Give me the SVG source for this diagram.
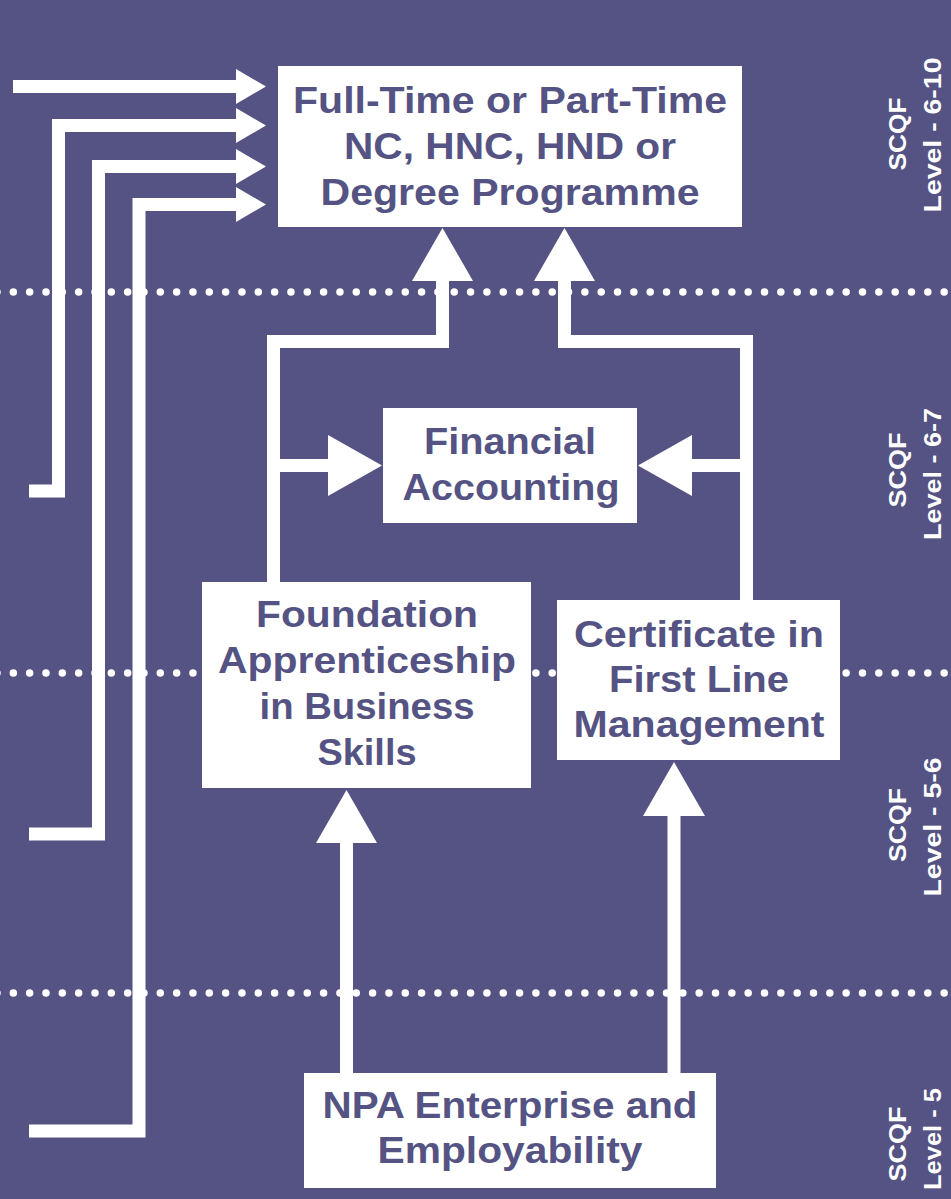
<svg xmlns="http://www.w3.org/2000/svg" width="951" height="1199" viewBox="0 0 951 1199">
  <defs>
    <style>
      .bg { fill: #545383; }
      .box { fill: #ffffff; }
      .lbl { font-family: "Liberation Sans", Arial, sans-serif; font-weight: bold; font-size: 36px; fill: #545383; text-anchor: middle; }
      .lvl { font-family: "Liberation Sans", Arial, sans-serif; font-weight: bold; font-size: 23px; fill: #ffffff; text-anchor: middle; }
      .dots { stroke: #ffffff; stroke-width: 7.5; stroke-linecap: round; stroke-dasharray: 0 16.33; fill: none; }
      .wire { stroke: #ffffff; stroke-width: 13; fill: none; stroke-linejoin: miter; stroke-linecap: butt; }
      .head { fill: #ffffff; }
    </style>
  </defs>

  <rect class="bg" x="0" y="0" width="951" height="1199"/>

  <!-- level separators -->
  <g id="separators">
    <line class="dots" x1="-3" y1="292" x2="960" y2="292"/>
    <line class="dots" x1="-3" y1="673" x2="960" y2="673"/>
    <line class="dots" x1="-3" y1="993" x2="960" y2="993"/>
  </g>

  <!-- connectors -->
  <g id="connectors">
    <!-- entry routes from the left margin -->
    <path class="wire" d="M13 86.5 H237"/>
    <polygon class="head" points="236,69 266,86.5 236,104"/>
    <path class="wire" d="M29 491 H58.5 V125.5 H237"/>
    <polygon class="head" points="236,108 266,125.5 236,143"/>
    <path class="wire" d="M29 834 H98.5 V166.5 H237"/>
    <polygon class="head" points="236,149 266,166.5 236,184"/>
    <path class="wire" d="M29 1131 H139 V204.5 H237"/>
    <polygon class="head" points="236,187 266,204.5 236,222"/>

    <!-- foundation apprenticeship up to programme and across to accounting -->
    <path class="wire" d="M273.5 583 V341.5 H442.5 V280"/>
    <polygon class="head" points="412,281 442.5,228 473,281"/>
    <path class="wire" d="M273.5 465.5 H330"/>
    <polygon class="head" points="328,435 382,465.5 328,496"/>

    <!-- first line management up to programme and across to accounting -->
    <path class="wire" d="M746.5 600 V341.5 H564.5 V280"/>
    <polygon class="head" points="534,281 564.5,228 595,281"/>
    <path class="wire" d="M746.5 465.5 H690"/>
    <polygon class="head" points="692,435 638,465.5 692,496"/>

    <!-- enterprise and employability up to both awards -->
    <path class="wire" d="M346.5 1074 V841"/>
    <polygon class="head" points="316,843 346.5,790 377,843"/>
    <path class="wire" d="M674 1074 V814"/>
    <polygon class="head" points="643,816 674,762 705,816"/>
  </g>

  <g id="programme">
    <rect class="box" x="278" y="66" width="464" height="161"/>
    <text class="lbl" x="510" y="113" textLength="434" lengthAdjust="spacingAndGlyphs">Full-Time or Part-Time</text>
    <text class="lbl" x="510" y="159" textLength="332" lengthAdjust="spacingAndGlyphs">NC, HNC, HND or</text>
    <text class="lbl" x="510" y="205" textLength="379" lengthAdjust="spacingAndGlyphs">Degree Programme</text>
  </g>

  <g id="financial-accounting">
    <rect class="box" x="383" y="408" width="254" height="115"/>
    <text class="lbl" x="510" y="454" textLength="172" lengthAdjust="spacingAndGlyphs">Financial</text>
    <text class="lbl" x="511" y="500" textLength="217" lengthAdjust="spacingAndGlyphs">Accounting</text>
  </g>

  <g id="foundation-apprenticeship">
    <rect class="box" x="202" y="582" width="329" height="206"/>
    <text class="lbl" x="367" y="627" textLength="222" lengthAdjust="spacingAndGlyphs">Foundation</text>
    <text class="lbl" x="367" y="673" textLength="298" lengthAdjust="spacingAndGlyphs">Apprenticeship</text>
    <text class="lbl" x="367" y="719" textLength="215" lengthAdjust="spacingAndGlyphs">in Business</text>
    <text class="lbl" x="367" y="765" textLength="99" lengthAdjust="spacingAndGlyphs">Skills</text>
  </g>

  <g id="first-line-management">
    <rect class="box" x="557" y="600" width="283" height="160"/>
    <text class="lbl" x="699" y="647" textLength="250" lengthAdjust="spacingAndGlyphs">Certificate in</text>
    <text class="lbl" x="699" y="692" textLength="180" lengthAdjust="spacingAndGlyphs">First Line</text>
    <text class="lbl" x="699" y="737" textLength="251" lengthAdjust="spacingAndGlyphs">Management</text>
  </g>

  <g id="enterprise-employability">
    <rect class="box" x="304" y="1073" width="412" height="115"/>
    <text class="lbl" x="510" y="1118" textLength="375" lengthAdjust="spacingAndGlyphs">NPA Enterprise and</text>
    <text class="lbl" x="510" y="1163" textLength="265" lengthAdjust="spacingAndGlyphs">Employability</text>
  </g>

  <!-- SCQF level captions, read bottom to top -->
  <g id="levels">
    <text class="lvl" transform="translate(906 134) rotate(-90)" textLength="73" lengthAdjust="spacingAndGlyphs">SCQF</text>
    <text class="lvl" transform="translate(941 135) rotate(-90)" textLength="155" lengthAdjust="spacingAndGlyphs">Level - 6-10</text>
    <text class="lvl" transform="translate(906 470) rotate(-90)" textLength="75" lengthAdjust="spacingAndGlyphs">SCQF</text>
    <text class="lvl" transform="translate(941 474) rotate(-90)" textLength="132" lengthAdjust="spacingAndGlyphs">Level - 6-7</text>
    <text class="lvl" transform="translate(906 825) rotate(-90)" textLength="74" lengthAdjust="spacingAndGlyphs">SCQF</text>
    <text class="lvl" transform="translate(941 827) rotate(-90)" textLength="139" lengthAdjust="spacingAndGlyphs">Level - 5-6</text>
    <text class="lvl" transform="translate(906 1144) rotate(-90)" textLength="75" lengthAdjust="spacingAndGlyphs">SCQF</text>
    <text class="lvl" transform="translate(941 1139) rotate(-90)" textLength="102" lengthAdjust="spacingAndGlyphs">Level - 5</text>
  </g>
</svg>
